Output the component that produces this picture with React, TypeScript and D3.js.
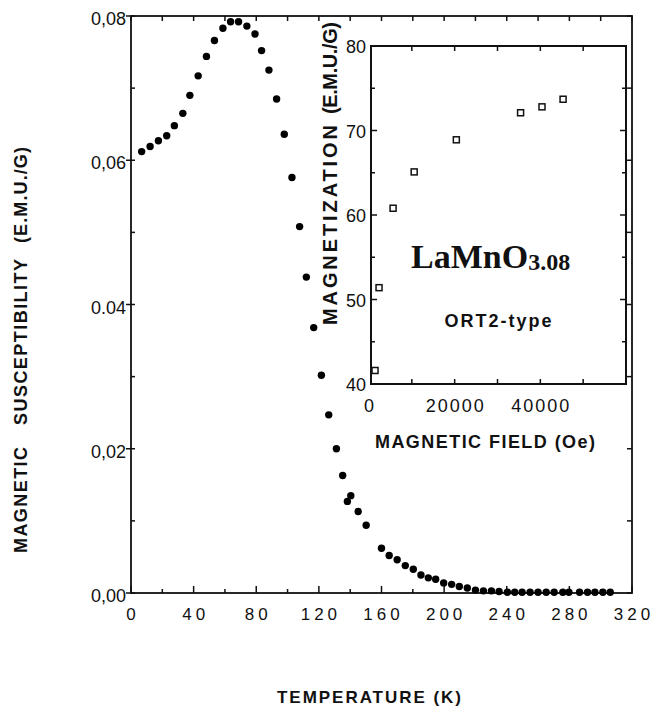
import { useEffect, useRef } from "react";
import * as d3 from "d3";

// main curve: susceptibility vs temperature
const tempK = [
  6.8, 12.2, 17.5, 22.8, 27.7, 33.1, 37.6, 42.9, 48.2, 53.3, 58.7, 63.6, 68.7, 74.0, 79.2, 83.4, 88.1, 93.0, 97.9, 102.8,
  107.7, 112.0, 116.7, 121.6, 126.3, 131.2, 135.2, 138.2, 140.4, 145.1, 150.2,
  160.0, 164.9, 170.0, 175.2, 180.3, 185.2, 189.9, 194.6, 199.7, 204.8, 209.7, 214.8, 220.0, 225.1, 230.2,
  235.1, 240.4, 245.1, 249.8, 254.9, 260.0, 265.2, 270.3, 275.8, 279.7, 286.5, 291.6, 296.3, 301.4, 306.1,
];
const chi = [
  0.0612, 0.0619, 0.0627, 0.0634, 0.0648, 0.0665, 0.069, 0.0717, 0.0744, 0.0766, 0.0783, 0.0792, 0.0792, 0.0786, 0.0775, 0.0752, 0.0725, 0.0685, 0.0636, 0.0576,
  0.0508, 0.0438, 0.0368, 0.0302, 0.0247, 0.02, 0.0163, 0.0127, 0.0135, 0.0113, 0.0094,
  0.0062, 0.0052, 0.0046, 0.0038, 0.0033, 0.0025, 0.0021, 0.0019, 0.0014, 0.0012, 0.0009, 0.0007, 0.0004, 0.0003, 0.0003,
  0.0002, 0.0001, 0.0001, 0.0001, 0.0001, 0.0001, 0.0001, 0.0001, 0.0001, 0.0001, 0.0001, 0.0001, 0.0001, 0.0001, 0.0001,
];
const xTicks = [0, 40, 80, 120, 160, 200, 240, 280, 320];
const yTicks = [0, 0.02, 0.04, 0.06, 0.08];
const yTickLabels = ["0,00", "0,02", "0.04", "0,06", "0,08"];

// inset: magnetization vs field
const fieldOe = [1406, 2344, 5625, 10547, 20390, 35390, 40390, 45310];
const magnet = [41.6, 51.4, 60.8, 65.1, 68.9, 72.1, 72.8, 73.7];
const insetXTicks = [0, 20000, 40000];
const insetYTicks = [40, 50, 60, 70, 80];

const SANS = "'Liberation Sans', Arial, Helvetica, sans-serif";

// per-glyph gaps (no trailing space, unlike letter-spacing)
const spaced = (s: string, gap: number) => s.split("").map((_, i) => (i ? gap : 0)).join(" ");

export default function App() {
  const ref = useRef<SVGSVGElement>(null);

  useEffect(() => {
    const el = ref.current;
    if (!el) return;
    const W = 651, H = 709;
    const svg = d3.select(el);
    svg.selectAll("*").remove();
    svg.attr("width", W).attr("height", H).attr("viewBox", `0 0 ${W} ${H}`);
    svg.append("rect").attr("width", W).attr("height", H).attr("fill", "#fff");

    const M = { left: 131, right: 632, top: 16, bottom: 593 };
    const x = d3.scaleLinear().domain([0, 320]).range([M.left, M.right]);
    const y = d3.scaleLinear().domain([0, 0.08]).range([M.bottom, M.top]);

    const g = svg.append("g");

    // frame
    g.append("rect")
      .attr("x", M.left).attr("y", M.top)
      .attr("width", M.right - M.left).attr("height", M.bottom - M.top)
      .attr("fill", "none").attr("stroke", "#111").attr("stroke-width", 1.8);

    // ticks, all sides
    const xMinor = d3.range(0, 321, 20);
    const yMinor = d3.range(0, 0.0801, 0.01);
    xMinor.forEach((v) => {
      const major = v % 40 === 0;
      g.append("line").attr("x1", x(v)).attr("x2", x(v))
        .attr("y1", M.bottom).attr("y2", M.bottom - (major ? 7 : 4))
        .attr("stroke", "#111").attr("stroke-width", 1.5);
      g.append("line").attr("x1", x(v)).attr("x2", x(v))
        .attr("y1", M.top).attr("y2", M.top + 5)
        .attr("stroke", "#111").attr("stroke-width", 1.5);
    });
    yMinor.forEach((v, i) => {
      const major = i % 2 === 0;
      g.append("line").attr("y1", y(v)).attr("y2", y(v))
        .attr("x1", M.left - (major ? 5 : 0)).attr("x2", M.left + 4)
        .attr("stroke", "#111").attr("stroke-width", 1.5);
      g.append("line").attr("y1", y(v)).attr("y2", y(v))
        .attr("x1", M.right).attr("x2", M.right - 5)
        .attr("stroke", "#111").attr("stroke-width", 1.5);
    });

    // tick labels
    g.selectAll(".xl").data(xTicks).join("text").attr("class", "xl")
      .attr("x", (d) => x(d)).attr("y", 620)
      .attr("dx", (d) => spaced(String(d), 4))
      .attr("text-anchor", "middle")
      .style("font-family", SANS).style("font-size", "17px")
      .attr("fill", "#111").text((d) => d);
    g.selectAll(".yl").data(yTicks).join("text").attr("class", "yl")
      .attr("x", 126).attr("y", (d) => y(d) + 9)
      .attr("text-anchor", "end")
      .style("font-family", SANS).style("font-size", "18px")
      .attr("fill", "#111").text((d, i) => yTickLabels[i]);

    // data
    g.selectAll(".dot").data(tempK).join("circle").attr("class", "dot")
      .attr("cx", (d) => x(d)).attr("cy", (d, i) => y(chi[i]))
      .attr("r", 3.7).attr("fill", "#000");

    // axis titles
    const ttl = (s: string, cx: number, cy: number, len: number, size: number, rot: boolean) => {
      const t = g.append("text")
        .attr("text-anchor", "middle")
        .attr("textLength", len).attr("lengthAdjust", "spacing")
        .style("font-family", SANS).style("font-weight", "bold").style("font-size", `${size}px`)
        .attr("fill", "#111").text(s);
      if (rot) t.attr("transform", `translate(${cx},${cy}) rotate(-90)`);
      else t.attr("x", cx).attr("y", cy);
      return t;
    };
    ttl("MAGNETIC", 27, 500, 106, 18, true);
    ttl("SUSCEPTIBILITY", 27, 342, 166, 18, true);
    ttl("(E.M.U./G)", 27, 195, 96, 18, true);
    ttl("TEMPERATURE (K)", 369, 703, 184, 17, false);

    // ---- inset ----
    const I = { left: 371, right: 626, top: 46, bottom: 384 };
    const ix = d3.scaleLinear().domain([0, 60000]).range([I.left - 2, I.right]);
    const iy = d3.scaleLinear().domain([40, 80]).range([I.bottom, I.top]);

    g.append("rect")
      .attr("x", I.left).attr("y", I.top)
      .attr("width", I.right - I.left).attr("height", I.bottom - I.top)
      .attr("fill", "#fff").attr("stroke", "#111").attr("stroke-width", 2);

    d3.range(10000, 60000, 10000).forEach((v) => {
      g.append("line").attr("x1", ix(v)).attr("x2", ix(v))
        .attr("y1", I.bottom).attr("y2", I.bottom - 5)
        .attr("stroke", "#111").attr("stroke-width", 1.5);
      g.append("line").attr("x1", ix(v)).attr("x2", ix(v))
        .attr("y1", I.top).attr("y2", I.top + 5)
        .attr("stroke", "#111").attr("stroke-width", 1.5);
    });
    d3.range(45, 80, 5).forEach((v) => {
      const major = v % 10 === 0;
      g.append("line").attr("y1", iy(v)).attr("y2", iy(v))
        .attr("x1", I.left).attr("x2", I.left + (major ? 6 : 4))
        .attr("stroke", "#111").attr("stroke-width", 1.5);
      g.append("line").attr("y1", iy(v)).attr("y2", iy(v))
        .attr("x1", I.right).attr("x2", I.right - (major ? 6 : 4))
        .attr("stroke", "#111").attr("stroke-width", 1.5);
    });

    g.selectAll(".ixl").data(insetXTicks).join("text").attr("class", "ixl")
      .attr("x", (d) => ix(d)).attr("y", 412)
      .attr("dx", (d) => spaced(String(d), 2))
      .attr("text-anchor", "middle")
      .style("font-family", SANS).style("font-size", "18px")
      .attr("fill", "#111").text((d) => d);
    g.selectAll(".iyl").data(insetYTicks).join("text").attr("class", "iyl")
      .attr("x", 366).attr("y", (d) => iy(d) + 7)
      .attr("text-anchor", "end")
      .style("font-family", SANS).style("font-size", "18px")
      .attr("fill", "#111").text((d) => d);

    g.selectAll(".sq").data(fieldOe).join("rect").attr("class", "sq")
      .attr("x", (d) => ix(d) - 3).attr("y", (d, i) => iy(magnet[i]) - 3)
      .attr("width", 6).attr("height", 6)
      .attr("fill", "#fff").attr("stroke", "#111").attr("stroke-width", 1.5);

    ttl("MAGNETIZATION", 337, 225, 200, 20, true);
    ttl("(E.M.U./G)", 337, 68, 92, 20, true);
    ttl("MAGNETIC FIELD (Oe)", 485, 448, 220, 18, false);

    const lab = g.append("text").attr("x", 411).attr("y", 268)
      .style("font-family", "'Liberation Serif', 'Times New Roman', serif")
      .style("font-weight", "bold").attr("fill", "#111");
    lab.append("tspan").style("font-size", "34px").text("LaMnO");
    lab.append("tspan").style("font-size", "24px").attr("dy", 2).text("3.08");

    ttl("ORT2-type", 498, 327, 107, 18, false);
  }, []);

  return <svg ref={ref} style={{ position: "absolute", left: 0, top: 0, display: "block" }} />;
}
